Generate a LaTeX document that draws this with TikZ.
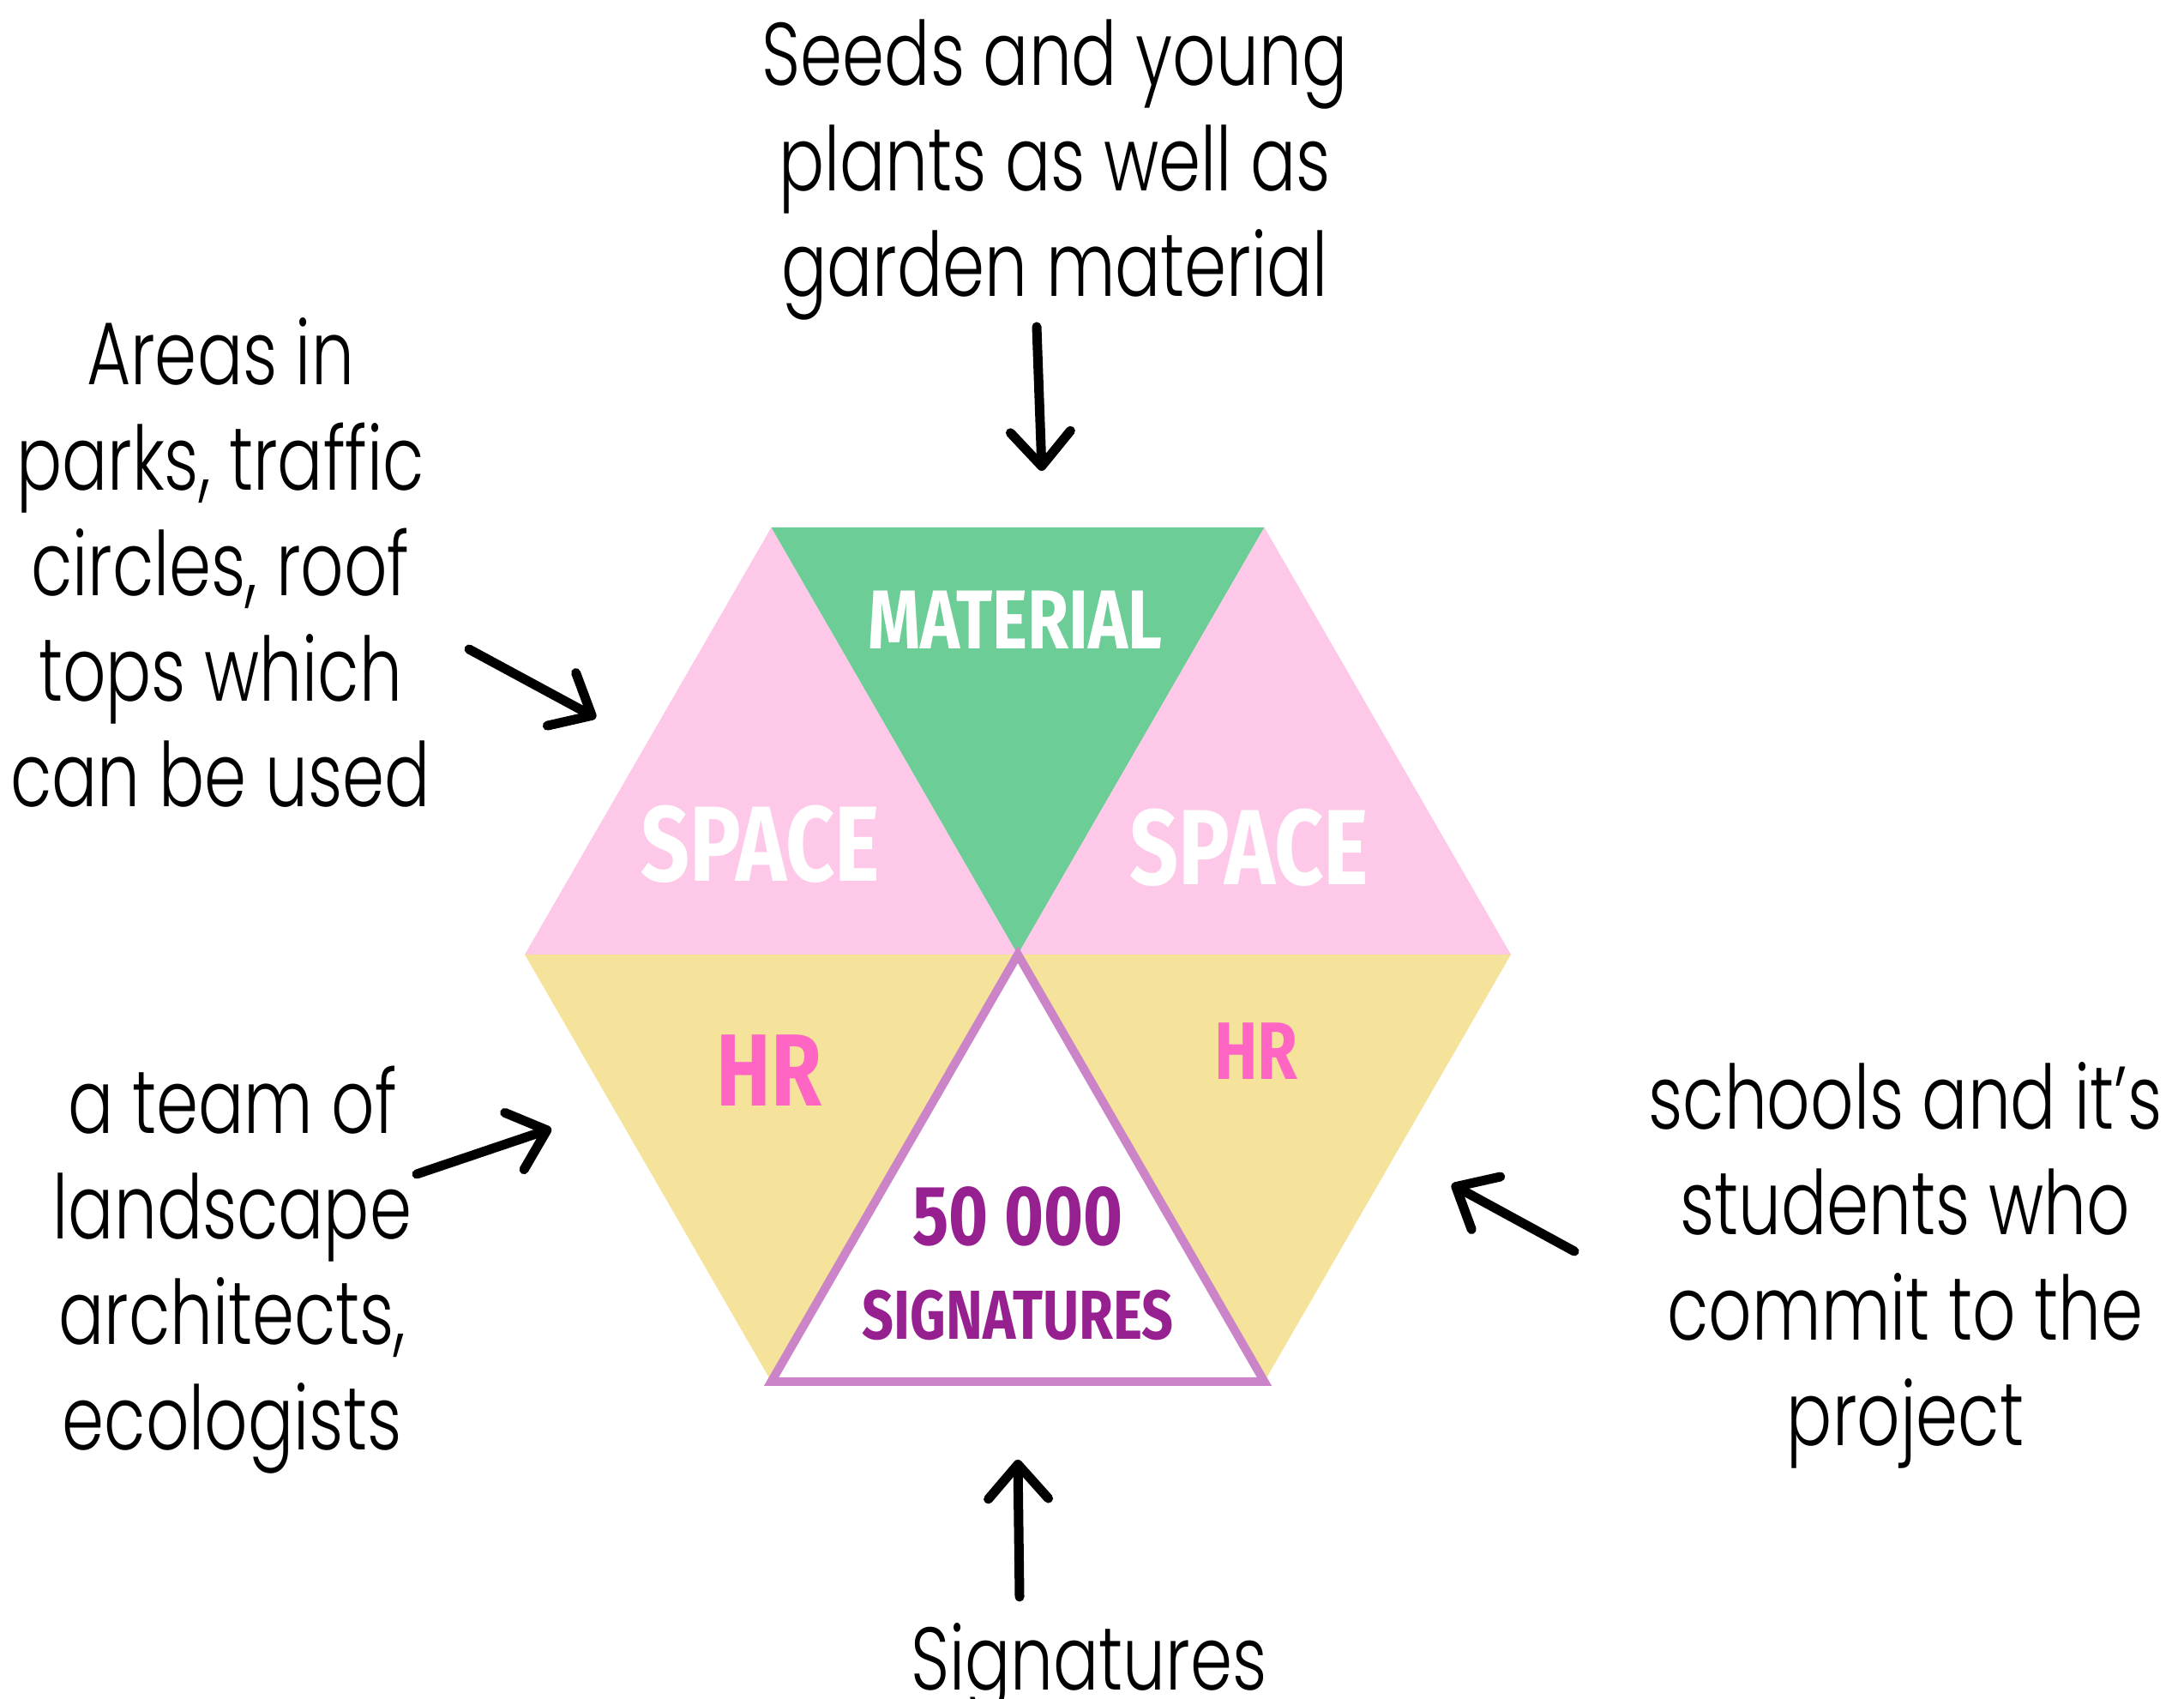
\documentclass[tikz,border=0pt]{standalone}
\usepackage{fontspec}
\setmainfont[FakeStretch=0.76,UprightFont=* Light]{Poppins}
\newfontfamily\tagfont[FakeStretch=0.8]{Fira Sans}
\usetikzlibrary{arrows.meta}

\definecolor{pinkfill}{HTML}{FEC8E9}
\definecolor{greenfill}{HTML}{6DCD97}
\definecolor{yellowfill}{HTML}{F5E39B}
\definecolor{edgepurple}{HTML}{CC84C8}
\definecolor{darkpurple}{HTML}{962090}
\definecolor{hotpink}{HTML}{FF66C4}

\begin{document}
\begin{tikzpicture}[
  note/.style={font=\fontsize{29.5}{35}\selectfont, align=center},
  tag/.style={text=white, font=\tagfont\bfseries},
  pointer/.style={line width=1.1mm, line cap=round,
    -{Straight Barb[length=4mm,width=7mm,round]}}
]
  \useasboundingbox (0,0) rectangle (25.47,19.81);

  \coordinate (c) at (11.87,8.68);
  \coordinate (r) at (17.62,8.68);
  \coordinate (tr) at (14.745,13.66);
  \coordinate (tl) at (8.995,13.66);
  \coordinate (l) at (6.12,8.68);
  \coordinate (bl) at (8.995,3.70);
  \coordinate (br) at (14.745,3.70);

  \fill[pinkfill] (tl) -- (c) -- (l) -- cycle;
  \fill[greenfill] (tl) -- (tr) -- (c) -- cycle;
  \fill[pinkfill] (tr) -- (r) -- (c) -- cycle;
  \fill[yellowfill] (l) -- (c) -- (bl) -- cycle;
  \fill[yellowfill] (c) -- (r) -- (br) -- cycle;
  \draw[line width=1mm, draw=edgepurple, fill=white] (c) -- (br) -- (bl) -- cycle;

  \node[tag, font=\tagfont\bfseries\fontsize{27.7}{30}\selectfont] (material) at (11.84,12.58) {MATERIAL};
  \node[tag, font=\tagfont\bfseries\fontsize{35.5}{38}\selectfont] (spaceL) at (8.87,9.97) {SPACE};
  \node[tag, font=\tagfont\bfseries\fontsize{35.5}{38}\selectfont] (spaceR) at (14.57,9.93) {SPACE};
  \node[tag, text=hotpink, font=\tagfont\bfseries\fontsize{34}{40}\selectfont] (hrL) at (8.97,7.33) {HR};
  \node[tag, text=hotpink, font=\tagfont\bfseries\fontsize{27}{32}\selectfont] (hrR) at (14.65,7.55) {HR};
  \node[tag, text=darkpurple, font=\tagfont\bfseries\fontsize{28}{34}\selectfont] (count) at (11.87,5.63) {50 000};
  \node[tag, text=darkpurple, font=\tagfont\bfseries\fontsize{23}{25}\selectfont] (signs) at (11.87,4.48) {SIGNATURES};

  \node[note] (seeds) at (12.30,17.83) {Seeds and young\\plants as well as\\garden material};
  \node[note] (areas) at (2.57,13.25) {Areas in\\parks, traffic\\circles, roof\\tops which\\can be used};
  \node[note] (team) at (2.71,5.00) {a team of\\landscape\\architects,\\ecologists};
  \node[note] (schools) at (22.22,5.06) {schools and it’s\\students who\\commit to the\\project};
  \node[note, anchor=base] (signatures) at (12.70,0.11) {Signatures};

  \coordinate (seeds-tail) at (12.09,16.00);
  \coordinate (seeds-tip) at (12.15,14.32);
  \coordinate (areas-tail) at (5.47,12.24);
  \coordinate (areas-tip) at (6.95,11.44);
  \coordinate (team-tail) at (4.86,6.12);
  \coordinate (team-tip) at (6.43,6.65);
  \coordinate (schools-tail) at (18.36,5.22);
  \coordinate (schools-tip) at (16.93,6.00);
  \coordinate (signatures-tail) at (11.89,1.19);
  \coordinate (signatures-tip) at (11.87,2.79);

  \foreach \n in {seeds,areas,team,schools,signatures}
    \draw[pointer] (\n-tail) -- (\n-tip);
\end{tikzpicture}
\end{document}
